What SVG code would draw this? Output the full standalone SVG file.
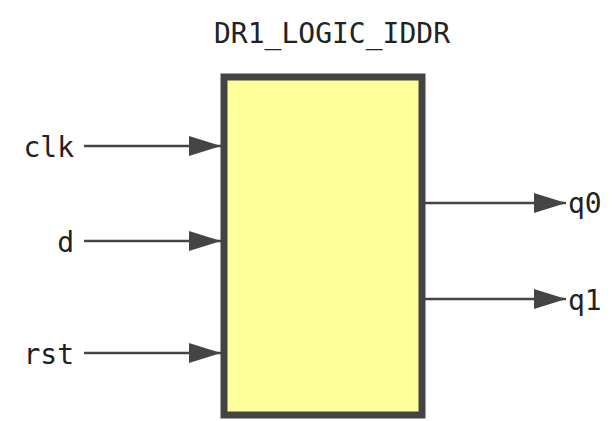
<svg xmlns="http://www.w3.org/2000/svg" width="612" height="421" viewBox="0 0 612 421">
<defs><marker id="a" viewBox="0 0 10 10" refX="10" refY="5" markerWidth="10" markerHeight="6" markerUnits="userSpaceOnUse" orient="auto"><path d="M0,0L10,5L0,10z" fill="#444"/></marker>
<marker id="b" viewBox="0 0 32 20" refX="32" refY="10" markerWidth="32" markerHeight="20" markerUnits="userSpaceOnUse" orient="auto"><path d="M0,0L32,10L0,20z" fill="#444"/></marker></defs>
<style>text{font-family:"DejaVu Sans Mono","Liberation Mono",monospace;font-size:28px;fill:#222}.l{stroke:#444;stroke-width:2.5;fill:none}</style>
<rect width="612" height="421" fill="#fff"/>
<text x="332" y="43" text-anchor="middle" font-size="26">DR1_LOGIC_IDDR</text>
<g id="block"><rect x="224" y="77" width="198" height="338" fill="#ffff99" stroke="#444" stroke-width="7"/></g>
<g id="connectors">
<line class="l" x1="84" y1="146" x2="221" y2="146" marker-end="url(#b)"/>
<line class="l" x1="84" y1="241" x2="221" y2="241" marker-end="url(#b)"/>
<line class="l" x1="84" y1="353" x2="221" y2="353" marker-end="url(#b)"/>
<line class="l" x1="425" y1="203" x2="566" y2="203" marker-end="url(#b)"/>
<line class="l" x1="425" y1="299" x2="566" y2="299" marker-end="url(#b)"/>
</g>
<g id="labels">
<text x="74" y="157" text-anchor="end">clk</text>
<text x="74" y="252" text-anchor="end">d</text>
<text x="74" y="364" text-anchor="end">rst</text>
<text x="568" y="213">q0</text>
<text x="568" y="310">q1</text>
</g>
</svg>
